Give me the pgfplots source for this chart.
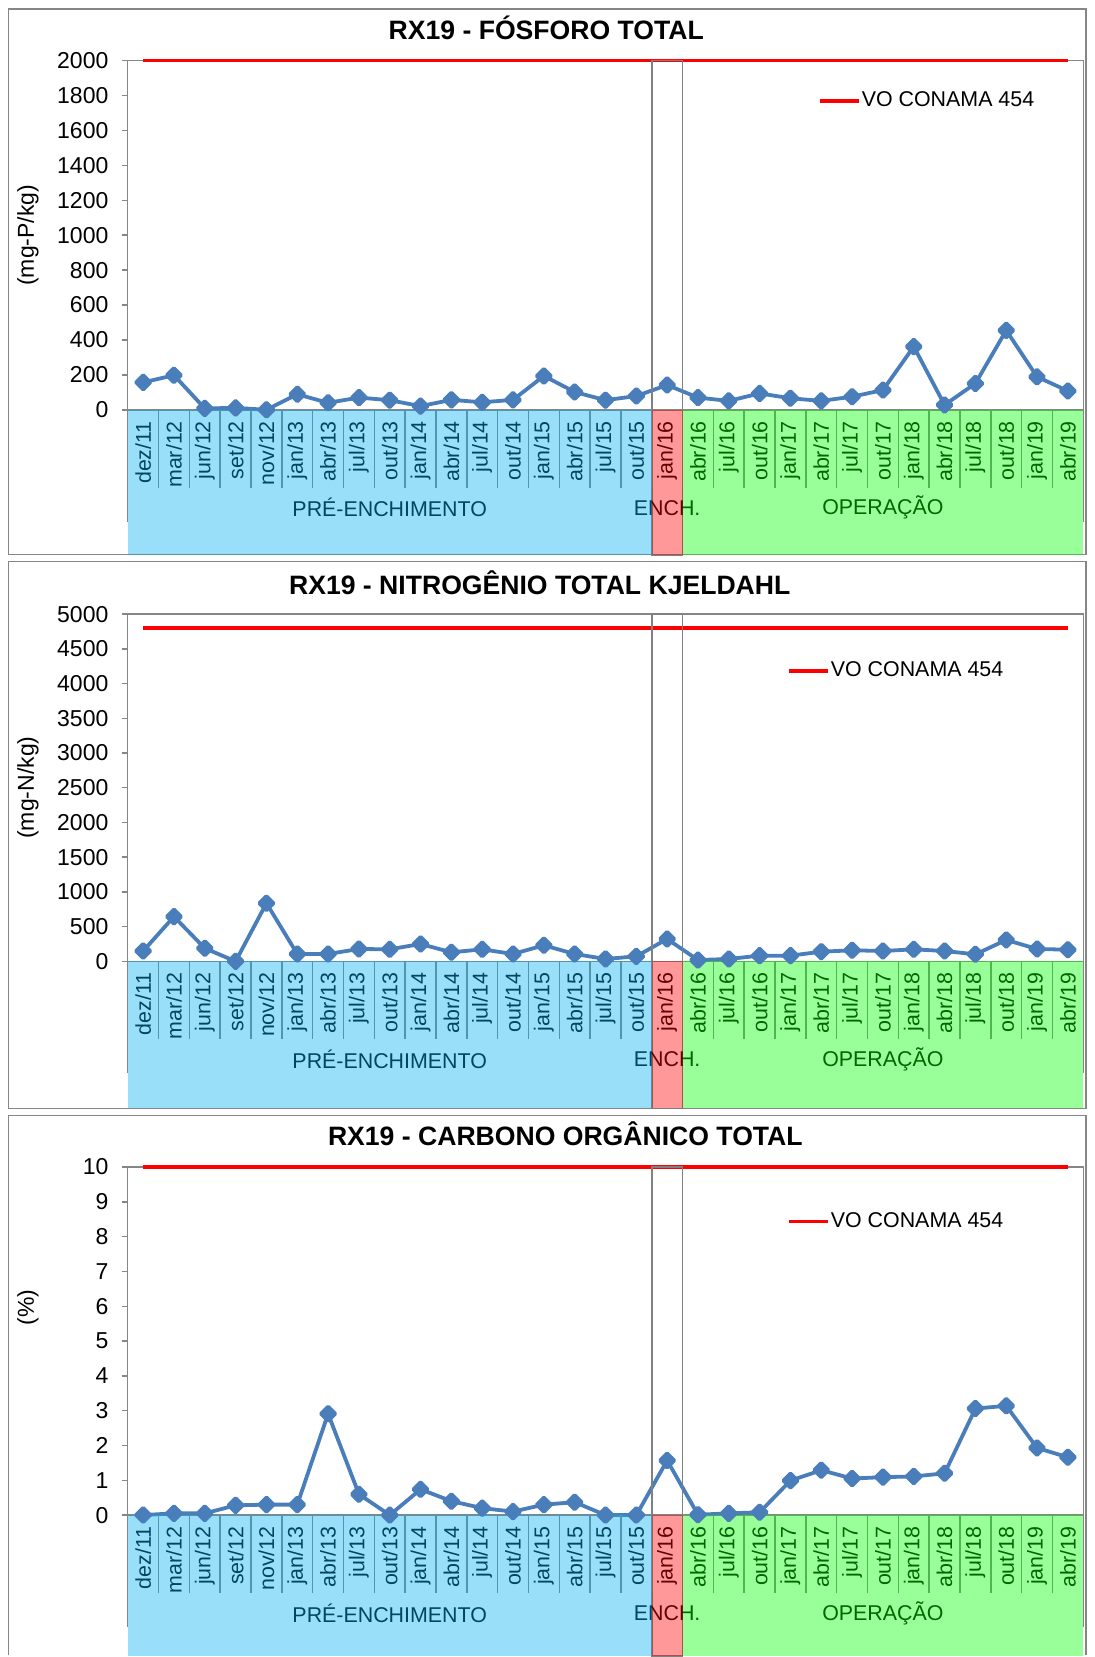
\documentclass[border=0pt]{standalone}
\usepackage{pgfplots}
\pgfplotsset{compat=1.18}
\usepackage{fontspec}
\setmainfont{Liberation Sans}
\definecolor{seriecol}{RGB}{74,126,187}
\definecolor{bblue}{RGB}{0,176,240}
\definecolor{bred}{RGB}{255,0,0}
\definecolor{bgreen}{RGB}{0,255,0}
\definecolor{axgray}{RGB}{134,134,134}
\definecolor{boxgray}{RGB}{128,128,128}
\newcommand{\catfont}{\fontsize{10.7}{12}\selectfont}
\newcommand{\tickfont}{\fontsize{11.5}{13}\selectfont}
\newcommand{\titlefont}{\bfseries\fontsize{13.3}{16}\selectfont}

\pgfplotsset{
  panel/.style={
    set layers,
    scale only axis,
    width=478pt,
    xmin=-0.5, xmax=30.5, ymin=0,
    xtick={0,...,30},
    xticklabels={dez/11,mar/12,jun/12,set/12,nov/12,jan/13,abr/13,jul/13,out/13,jan/14,abr/14,jul/14,out/14,jan/15,abr/15,jul/15,out/15,jan/16,abr/16,jul/16,out/16,jan/17,abr/17,jul/17,out/17,jan/18,abr/18,jul/18,out/18,jan/19,abr/19},
    x tick label style={yshift=-5.5pt, rotate=90, anchor=east, inner sep=0pt, font=\catfont},
    major x tick style={draw=none},
    y tick label style={inner sep=0pt, xshift=-6.5pt, font=\tickfont},
    ytick pos=left,
    ytick align=outside,
    major tick length=3pt,
    y tick style={axgray, line width=0.75pt},
    axis line style={draw=axgray, line width=0.75pt},
    /pgf/number format/assume math mode=true,
    /pgf/number format/1000 sep={},
    clip=false,
    legend style={draw=none, fill=none, anchor=west, inner sep=0pt,
      nodes={inner sep=0.6pt}, font=\catfont, legend cell align=left},
    legend image code/.code={\draw[##1] (0pt,0pt) -- (19.5pt,0pt);},
  },
  seriestyle/.style={color=seriecol, line width=1.9pt, line join=round, mark=square*,
      mark size=2.5pt, mark options={rotate=45, solid}, forget plot},
}

% #1 = ymax, #2 = band depth
\newcommand{\decor}[2]{%
  \draw[boxgray, line width=0.8pt] (axis cs:16.5,#1) rectangle ([yshift=-#2]axis cs:17.5,0);
  \pgfplotsinvokeforeach{0.5,1.5,...,29.5}{%
    \draw[axgray, line width=0.75pt] (axis cs:##1,0) -- ([yshift=-39pt]axis cs:##1,0);}
  \draw[axgray, line width=0.75pt] (axis cs:-0.5,0) -- ([yshift=-56pt]axis cs:-0.5,0);
  \draw[axgray, line width=0.75pt] (axis cs:30.5,0) -- ([yshift=-56pt]axis cs:30.5,0);
  \node[font=\catfont, inner sep=0pt] at ([yshift=-49pt]axis cs:8,0) {PRÉ-ENCHIMENTO};
  \node[font=\catfont, inner sep=0pt] at ([yshift=-49pt]axis cs:17,0) {ENCH.};
  \node[font=\catfont, inner sep=0pt] at ([yshift=-49pt]axis cs:24,0) {OPERAÇÃO};
  \fill[bblue, fill opacity=0.4] (axis cs:-0.5,0) rectangle ([yshift=-#2]axis cs:16.5,0);
  \fill[bred, fill opacity=0.4] (axis cs:16.5,0) rectangle ([yshift=-#2]axis cs:17.5,0);
  \fill[bgreen, fill opacity=0.4] (axis cs:17.5,0) rectangle ([yshift=-#2]axis cs:30.5,0);
}

\begin{document}
\begin{tikzpicture}
\path (0pt,0pt) rectangle (547.5pt,-828.5pt);

% frames
\draw[axgray, line width=0.75pt] (4.2pt,-4.5pt) rectangle (543.2pt,-277.5pt);
\draw[axgray, line width=0.75pt] (4.2pt,-281pt) rectangle (543.2pt,-554.5pt);
\draw[axgray, line width=0.75pt] (4.2pt,-828pt) -- (4.2pt,-558pt) -- (543.2pt,-558pt) -- (543.2pt,-828pt);

% titles
\node[font=\titlefont] at (273.25pt,-14pt) {RX19 - FÓSFORO TOTAL};
\node[font=\titlefont] at (270pt,-291.5pt) {RX19 - NITROGÊNIO TOTAL KJELDAHL};
\node[font=\titlefont] at (282.8pt,-567pt) {RX19 - CARBONO ORGÂNICO TOTAL};

% y labels
\node[font=\tickfont, rotate=90] at (14pt,-117.7pt) {(mg-P/kg)};
\node[font=\tickfont, rotate=90] at (14pt,-394pt) {(mg-N/kg)};
\node[font=\tickfont, rotate=90] at (14pt,-654pt) {(\%)};

% ---------- Panel 1 ----------
\begin{axis}[panel, at={(63.9pt,-205pt)}, anchor=south west,
  height=174.65pt, ymax=2000, ytick={0,200,...,2000},
  legend style={at={(axis description cs:0.722,0.885)}}]
\addplot[seriestyle] coordinates {
(0,157) (1,198) (2,8) (3,11) (4,0) (5,89) (6,40) (7,70) (8,55) (9,21)
(10,57) (11,43) (12,57) (13,194) (14,102) (15,55) (16,79) (17,142) (18,70) (19,51)
(20,94) (21,66) (22,51) (23,75) (24,113) (25,362) (26,28) (27,151) (28,455) (29,189) (30,108)};
\addplot[red, line width=1.8pt, no marks] coordinates {(0,2000) (30,2000)};
\addlegendentry{VO CONAMA 454}
\decor{2000}{72.5pt}
\end{axis}

% ---------- Panel 2 ----------
\begin{axis}[panel, at={(63.9pt,-480.9pt)}, anchor=south west,
  height=173.7pt, ymax=5000, ytick={0,500,...,5000},
  legend style={at={(axis description cs:0.6896,0.837)}}]
\addplot[seriestyle] coordinates {
(0,149) (1,644) (2,188) (3,0) (4,837) (5,106) (6,106) (7,178) (8,173) (9,250)
(10,130) (11,173) (12,106) (13,231) (14,106) (15,34) (16,72) (17,322) (18,19) (19,34)
(20,82) (21,82) (22,139) (23,159) (24,149) (25,173) (26,149) (27,101) (28,308) (29,178) (30,168)};
\addplot[red, line width=1.8pt, no marks] coordinates {(0,4800) (30,4800)};
\addlegendentry{VO CONAMA 454}
\decor{5000}{73.6pt}
\end{axis}

% ---------- Panel 3 ----------
\begin{axis}[panel, at={(63.9pt,-757.9pt)}, anchor=south west,
  height=174.1pt, ymax=10, ytick={0,1,...,10},
  legend style={at={(axis description cs:0.6896,0.844)}}]
\addplot[seriestyle] coordinates {
(0,0) (1,0.05) (2,0.05) (3,0.28) (4,0.3) (5,0.3) (6,2.91) (7,0.6) (8,0) (9,0.74)
(10,0.4) (11,0.2) (12,0.1) (13,0.3) (14,0.37) (15,0) (16,0) (17,1.57) (18,0.01) (19,0.05)
(20,0.08) (21,0.99) (22,1.29) (23,1.05) (24,1.09) (25,1.11) (26,1.2) (27,3.06) (28,3.14) (29,1.93) (30,1.66)};
\addplot[red, line width=1.8pt, no marks] coordinates {(0,10) (30,10)};
\addlegendentry{VO CONAMA 454}
\decor{10}{70.6pt}
\end{axis}
\end{tikzpicture}
\end{document}
